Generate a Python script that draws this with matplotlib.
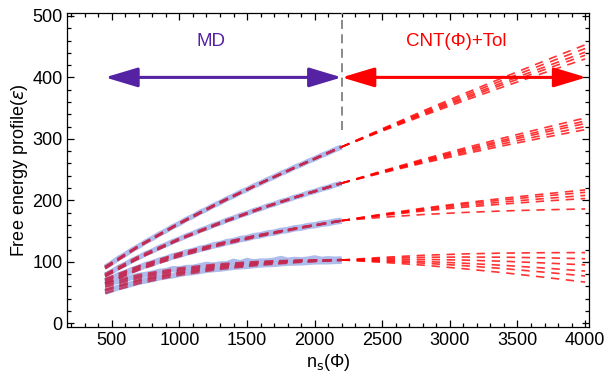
import matplotlib
matplotlib.use('Agg')
import matplotlib.pyplot as plt
import numpy as np
from matplotlib.ticker import MultipleLocator

plt.rcParams['font.family'] = ['Liberation Sans', 'DejaVu Sans']
plt.rcParams['mathtext.fontset'] = 'dejavusans'

# MD data (n_s from 450 to 2200, step 50)
md_x = list(range(450, 2201, 50))
md_a = [91.2, 98.0, 105.8, 112.1, 119.4, 125.5, 132.4, 138.2, 145.0, 150.5, 157.1, 162.4,
        168.9, 174.0, 180.3, 185.3, 191.4, 196.3, 202.3, 207.1, 213.0, 217.6, 223.4, 228.0,
        233.7, 238.1, 243.8, 248.1, 253.7, 257.9, 263.4, 267.6, 273.0, 277.2, 282.5, 286.7]
md_b = [78.3, 84.0, 90.9, 96.0, 102.4, 107.2, 113.1, 117.6, 123.3, 127.6, 132.9, 137.0,
        142.1, 146.0, 151.0, 154.7, 159.5, 163.0, 167.7, 171.1, 175.6, 178.9, 183.3, 186.4,
        190.7, 193.7, 197.9, 200.8, 204.9, 207.7, 211.7, 214.5, 218.4, 221.1, 224.9, 227.6]
md_c = [68.4, 72.6, 78.0, 81.8, 86.6, 90.1, 94.7, 97.7, 101.9, 104.8, 108.8, 111.3,
        115.0, 117.4, 121.0, 123.2, 126.6, 128.6, 131.9, 133.7, 136.9, 138.6, 141.6, 143.2,
        146.1, 147.5, 150.3, 151.7, 154.4, 155.6, 158.2, 159.5, 161.9, 163.0, 165.4, 166.8]
md_d_up = [63.0, 66.5, 69.0, 71.8, 74.9, 77.5, 79.1, 81.2, 84.0, 85.1, 88.5, 88.0,
           90.3, 90.6, 93.0, 95.5, 94.2, 96.1, 96.3, 100.5, 98.0, 101.8, 99.4, 100.9,
           100.8, 102.2, 105.0, 102.2, 103.5, 102.8, 103.9, 106.0, 103.7, 104.6, 103.9, 104.4]
md_d_lo = [50.5, 54.7, 58.4, 60.9, 64.1, 67.2, 69.3, 71.5, 74.3, 76.1, 77.6, 79.8,
           82.0, 82.8, 84.7, 86.6, 87.6, 88.5, 90.0, 91.5, 92.3, 92.9, 94.1, 95.3,
           95.8, 96.2, 97.2, 98.1, 98.4, 98.6, 99.4, 100.2, 100.3, 100.4, 101.0, 101.2]
md_sets = [[md_a], [md_b], [md_c], [md_d_up, md_d_lo]]

# CNT(Phi)+Tol fits
fit_x = [450, 700, 1000, 1300, 1600, 1900, 2200, 2500, 2800, 3100, 3400, 3700, 4000]
fit_a = [
    [90, 125, 162, 196, 228, 258, 287, 312.7, 337.6, 361.6, 385.0, 407.7, 430],
    [91, 126, 163, 197, 228, 258, 287, 313.7, 339.6, 364.6, 389.0, 412.7, 436],
    [91, 126, 163, 197, 228, 258, 287, 314.5, 341.3, 367.1, 392.3, 416.9, 441],
    [92, 126, 163, 197, 228, 258, 287, 315.5, 343.3, 370.1, 396.3, 421.9, 447],
    [89, 125, 162, 196, 228, 258, 287, 316.5, 345.3, 373.1, 400.3, 426.9, 453],
]
fit_b = [
    [76, 106, 136, 162, 186, 208, 228, 244.6, 260.5, 275.1, 289.0, 302.3, 315],
    [78, 107, 137, 163, 187, 208, 228, 245.5, 262.1, 277.6, 292.4, 306.4, 320],
    [78, 107, 137, 163, 187, 208, 228, 246.3, 263.8, 280.1, 295.7, 310.6, 325],
    [80, 109, 138, 164, 187, 208, 228, 247.0, 265.1, 282.1, 298.4, 313.9, 329],
    [77, 106, 137, 163, 187, 208, 228, 247.8, 266.8, 284.6, 301.7, 318.1, 334],
]
fit_c = [
    [72, 93, 114, 130, 144, 156, 167, 172.4, 176.9, 180.2, 182.8, 184.6, 186],
    [65, 88, 110, 128, 143, 156, 167, 175.2, 182.6, 188.7, 194.1, 198.8, 203],
    [68, 90, 112, 129, 143, 156, 167, 176.1, 184.2, 191.2, 197.5, 202.9, 208],
    [70, 92, 113, 130, 144, 156, 167, 176.9, 185.9, 193.7, 200.8, 207.1, 213],
    [64, 87, 109, 127, 142, 155, 167, 177.6, 187.2, 195.7, 203.5, 210.4, 217],
]
fit_d = [
    [62, 76.2, 87.5, 94.9, 99.4, 102.0, 103, 99.2, 94.6, 88.8, 82.2, 74.8, 67],
    [49, 65.0, 78.6, 88.2, 95.0, 99.7, 103, 100.9, 97.9, 93.8, 88.9, 83.1, 77],
    [59, 73.6, 85.5, 93.3, 98.4, 101.4, 103, 102.2, 100.6, 97.8, 94.2, 89.8, 85],
    [53, 68.5, 81.4, 90.2, 96.3, 100.4, 103, 103.9, 103.9, 102.8, 100.9, 98.1, 95],
    [65, 78.8, 89.6, 96.4, 100.4, 102.5, 103, 105.5, 107.3, 107.8, 107.5, 106.5, 105],
    [55, 70.2, 82.7, 91.3, 97.0, 100.8, 103, 107.2, 110.6, 112.8, 114.2, 114.8, 115],
]
fit_sets = [fit_a, fit_b, fit_c, fit_d]

n_md_end = 2200
arrow_y = 400

fig = plt.figure(figsize=(6.08, 3.78), dpi=100)
ax = fig.add_axes([0.111, 0.135, 0.858, 0.831])

md_lw = [3.8, 3.8, 4.6, 4.2]
for k, group in enumerate(md_sets):
    for ys in group:
        ax.plot(md_x, ys, color='#AEBCEC', lw=md_lw[k], solid_capstyle='butt', zorder=2)

fx = np.array(fit_x)
cut = np.searchsorted(fx, n_md_end) + 1
for bundle in fit_sets:
    for ys in bundle:
        ys = np.array(ys)
        ax.plot(fx[:cut], ys[:cut], color='#C42A52', lw=1.6, dashes=(4, 2.6), alpha=0.85, zorder=3)
        ax.plot(fx[cut - 1:], ys[cut - 1:], color='red', lw=1.2, dashes=(5, 4), alpha=0.8, zorder=3)

ax.plot([n_md_end, n_md_end], [315, 505], color='#808080', lw=1.3, dashes=(5, 3), zorder=4)

ax.annotate('', xy=(450, arrow_y), xytext=(n_md_end, arrow_y),
            arrowprops=dict(arrowstyle='<|-|>,head_length=1.0,head_width=0.3',
                            mutation_scale=20, color='#5522A4', lw=2.2,
                            shrinkA=0, shrinkB=0), zorder=5)
ax.annotate('', xy=(n_md_end, arrow_y), xytext=(4010, arrow_y),
            arrowprops=dict(arrowstyle='<|-|>,head_length=1.0,head_width=0.3',
                            mutation_scale=20, color='red', lw=2.2,
                            shrinkA=0, shrinkB=0), zorder=5)

ax.text(1230, 459, 'MD', color='#5522A4', fontsize=13.5, ha='center', va='center')
ax.text(3050, 459, 'CNT(Φ)+Tol', color='red', fontsize=13.5, ha='center', va='center')

ax.set_xlim(172, 4030)
ax.set_ylim(-6, 505)
ax.xaxis.set_major_locator(MultipleLocator(500))
ax.xaxis.set_minor_locator(MultipleLocator(100))
ax.yaxis.set_major_locator(MultipleLocator(100))
ax.yaxis.set_minor_locator(MultipleLocator(20))
ax.tick_params(which='both', direction='in', top=True, right=True, labelsize=13, width=0.9)
ax.tick_params(which='major', length=5)
ax.tick_params(which='minor', length=3)
for s in ax.spines.values():
    s.set_linewidth(0.9)

ax.set_xlabel('n$_{\\rm s}$(Φ)', fontsize=13, labelpad=2)
ax.set_ylabel('Free energy profile($\\epsilon$)', fontsize=13, labelpad=2)

fig.savefig('out.png', dpi=100)
